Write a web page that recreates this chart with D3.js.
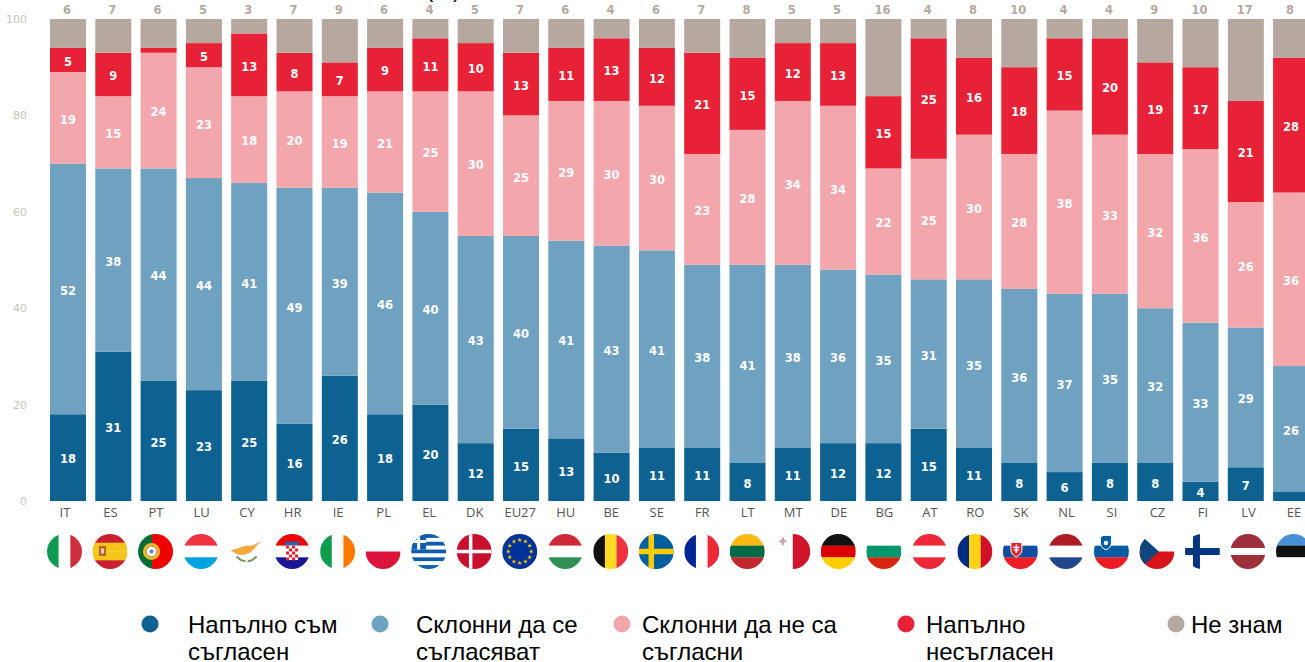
<!DOCTYPE html>
<html lang="bg">
<head>
<meta charset="utf-8">
<title>Stacked bars</title>
<script src="https://cdn.jsdelivr.net/npm/d3@7"></script>
<style>
    html, body { margin: 0; padding: 0; background: #fff; overflow: hidden; }
    svg { display: block; }
    .value { font: bold 11.5px "DejaVu Sans", sans-serif; fill: #fff; text-anchor: middle; }
    .dontknow { font: bold 11.5px "DejaVu Sans", sans-serif; fill: #b6a89f; text-anchor: middle; }
    .y-axis text { font: 11px "DejaVu Sans", sans-serif; fill: #c9c0ba; }
    .x-axis text { font: 13px "Open Sans", sans-serif; fill: #555; }
    .legend-label { font: 24px "Liberation Sans", sans-serif; fill: #000; }
    .title { font: 22px "Liberation Sans", sans-serif; fill: #000; }
</style>
</head>
<body>
<div id="chart"></div>
<script>
const countries = ['IT', 'ES', 'PT', 'LU', 'CY', 'HR', 'IE', 'PL', 'EL', 'DK', 'EU27', 'HU', 'BE', 'SE', 'FR', 'LT', 'MT', 'DE', 'BG', 'AT', 'RO', 'SK', 'NL', 'SI', 'CZ', 'FI', 'LV', 'EE'];

const totallyAgree = [18, 31, 25, 23, 25, 16, 26, 18, 20, 12, 15, 13, 10, 11, 11, 8, 11, 12, 12, 15, 11, 8, 6, 8, 8, 4, 7, 2];
const tendAgree = [52, 38, 44, 44, 41, 49, 39, 46, 40, 43, 40, 41, 43, 41, 38, 41, 38, 36, 35, 31, 35, 36, 37, 35, 32, 33, 29, 26];
const tendDisagree = [19, 15, 24, 23, 18, 20, 19, 21, 25, 30, 25, 29, 30, 30, 23, 28, 34, 34, 22, 25, 30, 28, 38, 33, 32, 36, 26, 36];
const totallyDisagree = [5, 9, 1, 5, 13, 8, 7, 9, 11, 10, 13, 11, 13, 12, 21, 15, 12, 13, 15, 25, 16, 18, 15, 20, 19, 17, 21, 28];
const dontKnow = [6, 7, 6, 5, 3, 7, 9, 6, 4, 5, 7, 6, 4, 6, 7, 8, 5, 5, 16, 4, 8, 10, 4, 4, 9, 10, 17, 8];

const seriesKeys = ['totallyAgree', 'tendAgree', 'tendDisagree', 'totallyDisagree', 'dontKnow'];
const seriesValues = [totallyAgree, tendAgree, tendDisagree, totallyDisagree, dontKnow];
const seriesColors = ['#0e6292', '#6fa1c1', '#f4a6ad', '#e72136', '#b6a89f'];
const legendLabels = [['Напълно съм', 'съгласен'], ['Склонни да се', 'съгласяват'], ['Склонни да не са', 'съгласни'], ['Напълно', 'несъгласен'], ['Не знам']];
const yTicks = [0, 20, 40, 60, 80, 100];

// stripe colours per flag, emblems are added in drawFlagDetail
const flagStripes = {
    IT: ['v', '#0f9b50', '#fff', '#cf2f3c'],
    ES: ['h', '#c8202c', '#f5c518', '#f5c518', '#c8202c'],
    PT: ['v', '#0a6a36', '#0a6a36', '#f00000', '#f00000', '#f00000'],
    LU: ['h', '#ef3340', '#fff', '#00a3e0'],
    CY: ['h', '#fff'],
    HR: ['h', '#f00000', '#fff', '#171796'],
    IE: ['v', '#0f9b50', '#fff', '#ff7900'],
    PL: ['h', '#fff', '#dc143c'],
    EL: ['h', '#0d5eaf', '#fff', '#0d5eaf', '#fff', '#0d5eaf', '#fff', '#0d5eaf', '#fff', '#0d5eaf'],
    DK: ['h', '#c8102e'],
    EU27: ['h', '#003399'],
    HU: ['h', '#ce2939', '#fff', '#2f8f55'],
    BE: ['v', '#111', '#fdda24', '#ef3340'],
    SE: ['h', '#005f9e'],
    FR: ['v', '#002395', '#fff', '#ed2939'],
    LT: ['h', '#fdb913', '#006a44', '#c1272d'],
    MT: ['v', '#fff', '#cf142b'],
    DE: ['h', '#111', '#dd0000', '#ffce00'],
    BG: ['h', '#fff', '#00966e', '#d62612'],
    AT: ['h', '#ed2939', '#fff', '#ed2939'],
    RO: ['v', '#002b7f', '#fcd116', '#ce1126'],
    SK: ['h', '#fff', '#0b4ea2', '#ee1c25'],
    NL: ['h', '#ae1c28', '#fff', '#21468b'],
    SI: ['h', '#fff', '#005da4', '#ed1c24'],
    CZ: ['h', '#fff', '#d7141a'],
    FI: ['h', '#fff'],
    LV: ['h', '#9e3039', '#9e3039', '#fff', '#9e3039', '#9e3039'],
    EE: ['h', '#4891d9', '#111', '#fff']
};

const width = 1305;
const height = 662;
const flagRadius = 17.5;
const flagBox = flagRadius * 2;

const svg = d3.select('#chart')
    .append('svg')
    .attr('width', width)
    .attr('height', height)
    .attr('viewBox', `0 0 ${width} ${height}`);

svg.append('defs')
    .append('clipPath')
    .attr('id', 'flag-clip')
    .append('circle')
    .attr('r', flagRadius);

const x = d3.scaleBand()
    .domain(countries)
    .range([45.35, 1313.75])
    .paddingInner(0.205)
    .paddingOuter(0.1025);

// labels and flags sit on a slightly wider grid than the bars
const xLabel = d3.scalePoint()
    .domain(countries)
    .range([64.5, 1293.5]);

const y = d3.scaleLinear()
    .domain([0, 100])
    .range([501, 19]);

const rows = countries.map((country, i) => {
    const row = { country };
    seriesKeys.forEach((key, s) => { row[key] = seriesValues[s][i]; });
    return row;
});

const stacked = d3.stack().keys(seriesKeys)(rows);

const layers = svg.append('g')
    .selectAll('g')
    .data(stacked)
    .join('g')
    .attr('fill', (d, i) => seriesColors[i]);

layers.selectAll('rect')
    .data((d) => d)
    .join('rect')
    .attr('x', (d) => x(d.data.country))
    .attr('y', (d) => y(d[1]))
    .attr('width', x.bandwidth())
    .attr('height', (d) => y(d[0]) - y(d[1]));

// values inside the bars, too thin segments stay unlabelled
stacked.slice(0, 4).forEach((layer) => {
    svg.append('g')
        .selectAll('text')
        .data(layer.filter((d) => d[1] - d[0] >= 3))
        .join('text')
        .attr('class', 'value')
        .attr('x', (d) => x(d.data.country) + x.bandwidth() / 2)
        .attr('y', (d) => y((d[0] + d[1]) / 2) + 1.5)
        .attr('dy', '0.38em')
        .text((d) => d[1] - d[0]);
});

svg.append('g')
    .selectAll('text')
    .data(rows)
    .join('text')
    .attr('class', 'dontknow')
    .attr('x', (d) => x(d.country) + x.bandwidth() / 2 - 1)
    .attr('y', 14)
    .text((d) => d.dontKnow);

svg.append('g')
    .attr('class', 'y-axis')
    .attr('transform', 'translate(30, 0)')
    .call(d3.axisLeft(y).tickValues(yTicks).tickSize(0).tickPadding(3))
    .call((g) => g.select('.domain').remove());

svg.append('g')
    .attr('class', 'x-axis')
    .attr('transform', 'translate(0, 505)')
    .call(d3.axisBottom(xLabel).tickSize(0).tickPadding(3))
    .call((g) => g.select('.domain').remove());

const flags = svg.append('g')
    .selectAll('g')
    .data(countries)
    .join('g')
    .attr('transform', (d) => `translate(${xLabel(d)}, 551.5)`)
    .append('g')
    .attr('clip-path', 'url(#flag-clip)');

flags.each(function (code) {
    const flag = d3.select(this);
    const [direction, ...colors] = flagStripes[code];
    const band = d3.scaleBand().domain(d3.range(colors.length)).range([-flagRadius, flagRadius]);

    flag.selectAll('rect')
        .data(colors)
        .join('rect')
        .attr('x', (d, i) => (direction === 'v' ? band(i) : -flagRadius))
        .attr('y', (d, i) => (direction === 'h' ? band(i) : -flagRadius))
        .attr('width', direction === 'v' ? band.bandwidth() + 0.2 : flagBox)
        .attr('height', direction === 'h' ? band.bandwidth() + 0.2 : flagBox)
        .attr('fill', (d) => d);

    drawFlagDetail(flag, code);
});

function addRect(flag, rx, ry, w, h, fill) {
    flag.append('rect').attr('x', rx).attr('y', ry).attr('width', w).attr('height', h).attr('fill', fill);
}

function addCross(flag, cx, thick, fill) {
    addRect(flag, cx - thick / 2, -flagRadius, thick, flagBox, fill);
    addRect(flag, -flagRadius, -thick / 2, flagBox, thick, fill);
}

function addShield(flag, sx, sy, fill, cross) {
    flag.append('path')
        .attr('d', `M${sx - 5.5},${sy - 7} h11 v8 q0,4 -5.5,6.5 q-5.5,-2.5 -5.5,-6.5 z`)
        .attr('fill', fill)
        .attr('stroke', '#fff');
    if (cross) {
        addRect(flag, sx - 0.8, sy - 5, 1.6, 8.5, cross);
        addRect(flag, sx - 3.2, sy - 2.8, 6.4, 1.5, cross);
        addRect(flag, sx - 2.4, sy - 0.2, 4.8, 1.5, cross);
    }
}

function drawFlagDetail(flag, code) {
    if (code === 'ES') {
        addRect(flag, -11, -5.5, 7, 10, '#b5652c');
        addRect(flag, -9, -3, 3, 5, '#e8d9b0');
    } else if (code === 'PT') {
        flag.append('circle').attr('cx', -4).attr('r', 8.5).attr('fill', '#e9c21b');
        flag.append('circle').attr('cx', -4).attr('r', 5.5).attr('fill', '#fff').attr('stroke', '#d8603a').attr('stroke-width', 1);
        flag.append('circle').attr('cx', -4).attr('r', 2).attr('fill', '#5b7fb0');
    } else if (code === 'CY') {
        flag.append('path')
            .attr('d', 'M-16,-1 L-9,-3 L-2,-5.5 L6,-6 L16,-11 L10,-6 L8,-3 L3,1.5 L-3,3.5 L-9,3 Z')
            .attr('fill', '#f2a93c');
        flag.append('path')
            .attr('d', 'M-10,5 Q-5,10 -1,9.5 M10,5 Q5,10 1,9.5')
            .attr('fill', 'none')
            .attr('stroke', '#7f9468')
            .attr('stroke-width', 2);
    } else if (code === 'HR') {
        addRect(flag, -7, -10, 14, 4, '#2f5fa8');
        addRect(flag, -6, -6, 12, 14.5, '#fff');
        d3.range(5).forEach((row) => d3.range(4).forEach((col) => {
            if ((row + col) % 2 === 0) {
                addRect(flag, -6 + col * 3, -6 + row * 3, 3, 3, '#e2202c');
            }
        }));
    } else if (code === 'EL') {
        addRect(flag, -flagRadius, -flagRadius, 15, 15.6, '#0d5eaf');
        addRect(flag, -flagRadius, -11.5, 15, 3, '#fff');
        addRect(flag, -11.5, -flagRadius, 3, 15.6, '#fff');
    } else if (code === 'DK') {
        addCross(flag, -3.5, 3.5, '#fff');
    } else if (code === 'EU27') {
        flag.selectAll('path.star')
            .data(d3.range(12))
            .join('path')
            .attr('class', 'star')
            .attr('d', d3.symbol(d3.symbolStar, 7))
            .attr('fill', '#ffcc00')
            .attr('transform', (i) => {
                const a = (i / 12) * 2 * Math.PI;
                return `translate(${11.5 * Math.cos(a)}, ${11.5 * Math.sin(a)})`;
            });
    } else if (code === 'SE') {
        addCross(flag, -5, 5.5, '#fecc00');
    } else if (code === 'MT') {
        addRect(flag, -13.5, -11.5, 7, 2.4, '#c9a6ab');
        addRect(flag, -11.2, -14, 2.4, 7.4, '#c9a6ab');
    } else if (code === 'SK') {
        addShield(flag, -4, -2, '#e3202c', '#fff');
    } else if (code === 'SI') {
        addShield(flag, -5.5, -9, '#005da4', null);
        flag.append('circle').attr('cx', -5.5).attr('cy', -8.5).attr('r', 2.2).attr('fill', '#fff');
    } else if (code === 'CZ') {
        flag.append('path').attr('d', 'M-17.5,-17.5 L2,0 L-17.5,17.5 Z').attr('fill', '#11457e');
    } else if (code === 'FI') {
        addCross(flag, -6, 7, '#003580');
    }
}

const legendX = [150, 380, 622, 906, 1176];
const legendTextX = [188, 416, 642, 926, 1191];

const legend = svg.append('g')
    .selectAll('g')
    .data(legendLabels)
    .join('g');

legend.append('circle')
    .attr('cx', (d, i) => legendX[i])
    .attr('cy', 624)
    .attr('r', 8.5)
    .attr('fill', (d, i) => seriesColors[i]);

legend.append('text')
    .attr('class', 'legend-label')
    .selectAll('tspan')
    .data((d, i) => d.map((line, n) => ({ line, n, i })))
    .join('tspan')
    .attr('x', (d) => legendTextX[d.i])
    .attr('y', (d) => 633 + d.n * 27)
    .text((d) => d.line);

// the heading is cut off by the top edge in the reference, only the unit shows
svg.append('text')
    .attr('class', 'title')
    .attr('x', 426)
    .attr('y', -3)
    .text('(%)');
</script>
</body>
</html>
